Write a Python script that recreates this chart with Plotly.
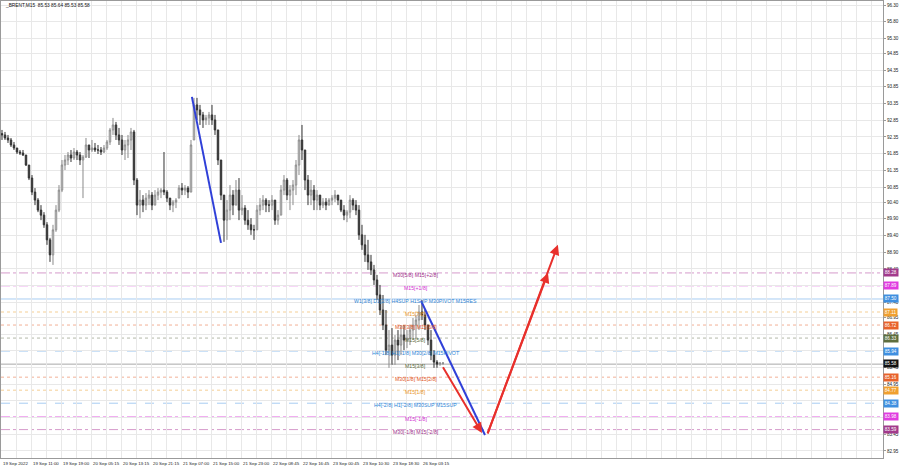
import plotly.graph_objects as go

# ---------------- data ----------------
TITLE = "_BRENT,M15  85.53 85.64 85.53 85.58"

OPEN0 = 92.45
HIGH = [92.56, 92.50, 92.41, 92.32, 92.20, 92.02, 91.96, 91.96, 91.81, 91.51,
        91.21, 90.82, 90.52, 90.31, 90.10, 89.80, 89.33, 89.72, 90.31, 90.91,
        91.66, 91.81, 91.90, 91.96, 92.02, 91.96, 91.90, 91.81, 92.32, 92.11,
        92.26, 92.17, 92.11, 92.05, 92.11, 92.26, 92.62, 92.92, 92.80, 92.62,
        92.41, 92.26, 92.41, 92.62, 92.56, 91.12, 90.76, 90.61, 90.67, 90.76,
        90.70, 90.76, 90.82, 90.82, 91.90, 90.76, 90.52, 90.46, 90.52, 90.91,
        90.97, 90.91, 90.88, 92.26, 93.52, 93.52, 93.31, 93.10, 93.01, 93.10,
        93.31, 93.01, 92.56, 91.66, 90.61, 90.46, 90.91, 90.76, 91.06, 91.12,
        90.61, 90.31, 90.16, 89.92, 89.72, 90.31, 90.52, 90.61, 90.52, 90.46,
        90.61, 90.46, 90.16, 90.91, 91.21, 91.12, 90.91, 91.06, 91.66, 92.41,
        92.71, 91.96, 91.21, 91.06, 90.91, 90.76, 90.61, 90.52, 90.52, 90.52,
        90.61, 90.76, 90.61, 90.46, 90.31, 90.16, 90.61, 90.52, 90.46, 90.31,
        89.72, 89.42, 89.27, 88.82, 88.52, 88.22, 87.92, 87.62, 87.17, 86.57,
        86.63, 86.42, 86.57, 86.72, 86.72, 86.57, 86.72, 86.93, 87.02, 87.32,
        87.47, 87.17, 86.72, 86.57, 85.97, 85.67, 85.61, 85.61]
LOW = [92.26, 92.26, 92.17, 92.05, 91.96, 91.84, 91.81, 91.78, 91.48, 91.06,
       90.61, 90.31, 90.10, 89.86, 89.63, 89.12, 88.61, 88.52, 89.51, 90.10,
       90.70, 91.36, 91.51, 91.60, 91.66, 91.66, 91.51, 90.52, 91.72, 91.72,
       91.90, 91.90, 91.84, 91.81, 91.87, 91.96, 92.11, 92.41, 92.26, 92.11,
       91.81, 91.66, 91.72, 91.96, 90.91, 90.01, 89.92, 90.10, 90.16, 90.31,
       90.16, 90.31, 90.46, 90.52, 90.61, 90.40, 90.16, 90.10, 90.22, 90.52,
       90.61, 90.61, 90.52, 90.70, 92.26, 92.86, 92.71, 92.62, 92.71, 92.71,
       92.71, 92.41, 91.51, 90.46, 89.21, 89.27, 89.86, 90.01, 90.31, 89.86,
       90.01, 89.72, 89.57, 89.42, 89.27, 89.57, 90.01, 90.16, 90.10, 90.10,
       90.16, 89.72, 89.72, 90.01, 90.61, 90.46, 90.16, 90.31, 90.61, 91.21,
       91.66, 90.76, 90.31, 90.31, 90.16, 90.16, 90.16, 90.22, 90.16, 90.31,
       90.31, 90.40, 90.31, 90.10, 89.86, 89.80, 89.92, 90.16, 90.01, 89.27,
       88.97, 88.61, 88.37, 88.22, 87.92, 87.47, 87.02, 86.57, 85.82, 85.44,
       85.53, 85.53, 85.67, 85.82, 85.97, 86.03, 86.12, 86.27, 86.33, 86.57,
       86.87, 86.57, 86.12, 85.67, 85.44, 85.44, 85.50, 85.53]
CLOSE = [92.41, 92.32, 92.26, 92.11, 92.02, 91.90, 91.87, 91.81, 91.51, 91.12,
         90.70, 90.46, 90.16, 90.01, 89.72, 89.27, 88.82, 89.57, 90.16, 90.76,
         91.51, 91.66, 91.81, 91.72, 91.90, 91.81, 91.66, 91.75, 92.11, 91.96,
         92.02, 91.96, 91.96, 91.90, 92.02, 92.20, 92.56, 92.71, 92.41, 92.26,
         91.96, 92.11, 92.26, 92.50, 91.06, 90.31, 90.46, 90.31, 90.52, 90.61,
         90.31, 90.61, 90.70, 90.76, 90.70, 90.52, 90.31, 90.40, 90.46, 90.82,
         90.76, 90.82, 90.70, 92.11, 93.31, 93.16, 93.01, 92.86, 92.92, 93.01,
         92.86, 92.56, 91.66, 90.61, 89.86, 90.16, 90.61, 90.31, 90.76, 90.16,
         90.22, 89.86, 89.72, 89.57, 89.57, 90.16, 90.31, 90.46, 90.31, 90.31,
         90.46, 89.86, 90.01, 90.76, 91.06, 90.61, 90.76, 90.91, 91.51, 92.26,
         91.96, 91.06, 90.61, 90.76, 90.46, 90.61, 90.31, 90.40, 90.31, 90.46,
         90.52, 90.61, 90.46, 90.16, 90.01, 90.10, 90.46, 90.31, 90.16, 89.42,
         89.12, 88.82, 88.61, 88.37, 88.07, 87.62, 87.17, 86.72, 85.97, 86.12,
         85.82, 86.27, 86.12, 86.42, 86.27, 86.33, 86.57, 86.72, 86.87, 87.11,
         87.02, 86.72, 86.27, 85.82, 85.61, 85.55, 85.58, 85.58]

TIME_LABELS = ["19 Sep 2022", "19 Sep 11:00", "19 Sep 19:00", "20 Sep 05:15", "20 Sep 13:15",
               "20 Sep 21:15", "21 Sep 07:00", "21 Sep 15:00", "21 Sep 23:00", "22 Sep 08:45",
               "22 Sep 16:45", "23 Sep 00:45", "23 Sep 10:30", "23 Sep 18:30", "26 Sep 03:15"]
TIME_LABEL_BARS = [0, 10, 20, 30, 40, 50, 60, 70, 80, 90, 100, 110, 120, 130, 140]

PRICE_TICKS = ["96.30", "95.80", "95.30", "94.85", "94.35", "93.85", "93.35", "92.85", "92.35",
               "91.85", "91.35", "90.85", "90.40", "89.90", "89.40", "88.90", "88.40", "87.90",
               "87.40", "86.95", "86.45", "85.95", "85.45", "84.95", "84.45", "83.95", "83.45", "82.95"]

LEVELS = [88.28, 87.89, 87.50, 87.11, 86.72, 86.33, 85.94, 85.55, 85.16, 84.77, 84.38, 83.98, 83.59]
LEVEL_NAMES = ["M30[5/8] M15[+2/8]", "M15[+1/8]",
               "W1[3/8] D1[2/8] H4SUP H1SUP M30PIVOT M15RES", "M15[7/8]",
               "M30[3/8] M15[6/8]", "M15[5/8]", "H4[-1/8] H1[-1/8] M30[2/8] M15PIVOT",
               "M15[3/8]", "M30[1/8] M15[2/8]", "M15[1/8]",
               "H4[-2/8] H1[-2/8] M30SUP M15SUP", "M15[-1/8]", "M30[-1/8] M15[-2/8]"]
LEVEL_KIND = ["purple", "magenta", "blue_solid", "orange", "orangered", "olive", "blue",
              "gray", "orangered", "orange", "blue", "magenta", "purple"]
LAST_PRICE = 85.58

BLUE_LEFT_T, BLUE_LEFT_P = [63.3, 73.0], [93.55, 89.18]
BLUE_RIGHT_T, BLUE_RIGHT_P = [139.7, 161.0], [87.44, 83.43]
RED_DOWN_T, RED_DOWN_P = [146.7, 160.0], [85.50, 83.49]
RED_UP_T, RED_UP_P = [161.7, 182.0, 185.3], [83.43, 88.28, 89.12]

# ---------------- styles ----------------
STYLE = {
    "purple":     dict(box="#a23a8c", text="#a0308a", line="#d59acb", dash="dashdot"),
    "magenta":    dict(box="#e03ce0", text="#d030d0", line="#f0a8f0", dash="dashdot"),
    "blue_solid": dict(box="#3f8fe0", text="#2f86d6", line="#a8cdf2", dash="solid"),
    "blue":       dict(box="#3f8fe0", text="#2f86d6", line="#a8cdf2", dash="dash"),
    "orange":     dict(box="#f0a030", text="#e8962a", line="#f5cf95", dash="dot"),
    "orangered":  dict(box="#e8622a", text="#e0561e", line="#f2b096", dash="dot"),
    "olive":      dict(box="#5e6e3e", text="#5a6a3a", line="#b4b8a8", dash="dot"),
    "gray":       dict(box="#5e6e3e", text="#5a6a3a", line="#a8a8a8", dash="solid"),
}
FONT = "Liberation Sans"
LABEL_BAR = 138

opens = []
prev = OPEN0
for h, l, c in zip(HIGH, LOW, CLOSE):
    opens.append(min(max(prev, l), h))
    prev = c

# price labels that are covered by a level box in the terminal are not shown
boxed = LEVELS + [LAST_PRICE]
shown_ticks = [t if min(abs(float(t) - b) for b in boxed) > 0.08 else "" for t in PRICE_TICKS]

fig = go.Figure()

for lv, kind in zip(LEVELS, LEVEL_KIND):
    st = STYLE[kind]
    fig.add_shape(type="line", xref="paper", x0=0, x1=1, yref="y", y0=lv, y1=lv,
                  line=dict(color=st["line"], width=1, dash=st["dash"]), layer="below")

fig.add_trace(go.Candlestick(
    x=list(range(len(CLOSE))), open=opens, high=HIGH, low=LOW, close=CLOSE,
    increasing=dict(line=dict(color="#8a8a8a", width=1), fillcolor="#ffffff"),
    decreasing=dict(line=dict(color="#333333", width=1), fillcolor="#333333"),
    whiskerwidth=0, hoverinfo="skip", showlegend=False))

for tx, py in [(BLUE_LEFT_T, BLUE_LEFT_P), (BLUE_RIGHT_T, BLUE_RIGHT_P)]:
    fig.add_trace(go.Scatter(x=tx, y=py, mode="lines",
                             line=dict(color="#3040d8", width=2), hoverinfo="skip", showlegend=False))

ann = []
ann.append(dict(x=RED_DOWN_T[1], y=RED_DOWN_P[1], ax=RED_DOWN_T[0], ay=RED_DOWN_P[0],
                xref="x", yref="y", axref="x", ayref="y", text="", showarrow=True,
                arrowhead=2, arrowsize=1, arrowwidth=2, arrowcolor="#e8302c"))
for k in (1, 2):
    ann.append(dict(x=RED_UP_T[k], y=RED_UP_P[k], ax=RED_UP_T[0], ay=RED_UP_P[0],
                    xref="x", yref="y", axref="x", ayref="y", text="", showarrow=True,
                    arrowhead=2, arrowsize=1, arrowwidth=2, arrowcolor="#e8302c"))

for lv, name, kind in zip(LEVELS, LEVEL_NAMES, LEVEL_KIND):
    st = STYLE[kind]
    ann.append(dict(x=LABEL_BAR, y=lv, xref="x", yref="y", text=name, showarrow=False,
                    xanchor="center", yanchor="middle", yshift=-2,
                    font=dict(family=FONT, size=5.2, color=st["text"])))
    if abs(lv - LAST_PRICE) > 0.08:
        ann.append(dict(x=1, y=lv, xref="paper", yref="y", text=f"{lv:.2f}", showarrow=False,
                        xanchor="left", yanchor="middle", xshift=0,
                        bgcolor=st["box"], borderpad=0.8,
                        font=dict(family=FONT, size=4.6, color="#ffffff")))
ann.append(dict(x=1, y=LAST_PRICE, xref="paper", yref="y", text=f"{LAST_PRICE:.2f}", showarrow=False,
                xanchor="left", yanchor="middle", bgcolor="#111111", borderpad=0.8,
                font=dict(family=FONT, size=4.6, color="#ffffff")))

for b, t in zip(TIME_LABEL_BARS, TIME_LABELS):
    ann.append(dict(x=b, y=0, xref="x", yref="paper", text=t, showarrow=False,
                    xanchor="left", yanchor="top", xshift=-1, yshift=-1,
                    font=dict(family=FONT, size=4.4, color="#222222")))

ann.append(dict(x=0, y=1, xref="paper", yref="paper", text=TITLE, showarrow=False,
                xanchor="left", yanchor="top", xshift=2, yshift=0,
                font=dict(family=FONT, size=4.8, color="#111111")))

fig.update_layout(
    width=900, height=468,
    margin=dict(l=1, r=17, t=1, b=10),
    plot_bgcolor="#ffffff", paper_bgcolor="#ffffff",
    showlegend=False, annotations=ann,
    font=dict(family=FONT),
    xaxis=dict(range=[-0.33, 293.67], rangeslider=dict(visible=False),
               showgrid=True, gridcolor="#e8e8e8", gridwidth=1, tick0=0, dtick=5,
               showticklabels=False, ticks="", zeroline=False,
               showline=True, mirror=True, linecolor="#9a9a9a", linewidth=1),
    yaxis=dict(side="right", range=[82.74, 96.42],
               tickmode="array", tickvals=[float(t) for t in PRICE_TICKS], ticktext=shown_ticks,
               showgrid=True, gridcolor="#e8e8e8", gridwidth=1, zeroline=False,
               ticks="outside", ticklen=2, tickcolor="#9a9a9a",
               tickfont=dict(family=FONT, size=4.6, color="#222222"),
               showline=True, mirror=True, linecolor="#9a9a9a", linewidth=1),
)

fig.write_html("out.html", config={"displayModeBar": False},
               post_script="document.body.style.margin='0';document.body.style.overflow='hidden';")
